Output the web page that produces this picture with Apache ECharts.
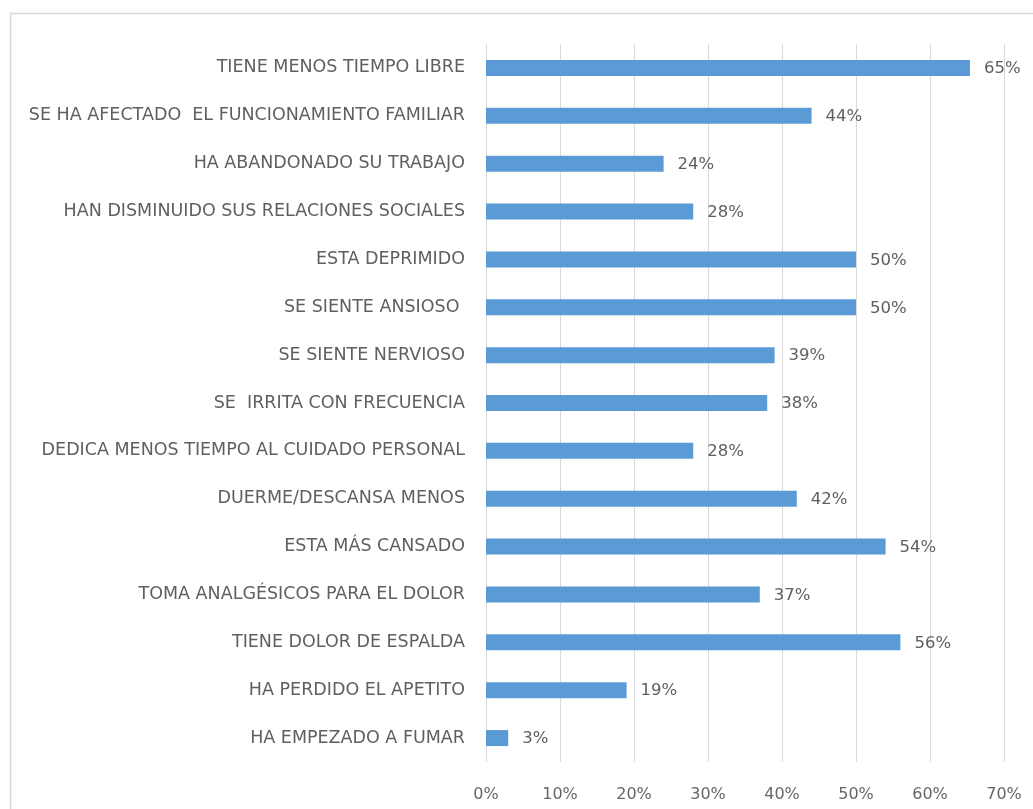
<!DOCTYPE html>
<html>
<head>
<meta charset="utf-8">
<style>
  html, body { margin: 0; padding: 0; background: #fff; }
  #main { width: 1033px; height: 809px; }
</style>
<script src="https://cdn.jsdelivr.net/npm/echarts@6/dist/echarts.min.js"></script>
</head>
<body>
<div id="main"></div>
<script>
// categorias, de arriba hacia abajo
const categories = [
  'TIENE MENOS TIEMPO LIBRE',
  'SE HA AFECTADO  EL FUNCIONAMIENTO FAMILIAR',
  'HA ABANDONADO SU TRABAJO',
  'HAN DISMINUIDO SUS RELACIONES SOCIALES',
  'ESTA DEPRIMIDO',
  'SE SIENTE ANSIOSO ',
  'SE SIENTE NERVIOSO',
  'SE  IRRITA CON FRECUENCIA',
  'DEDICA MENOS TIEMPO AL CUIDADO PERSONAL',
  'DUERME/DESCANSA MENOS',
  'ESTA MÁS CANSADO',
  'TOMA ANALGÉSICOS PARA EL DOLOR',
  'TIENE DOLOR DE ESPALDA',
  'HA PERDIDO EL APETITO',
  'HA EMPEZADO A FUMAR'
]
// porcentajes
const values = [65.4, 44, 24, 28, 50, 50, 39, 38, 28, 42, 54, 37, 56, 19, 3]
// marcas del eje x
const xTicks = [0, 10, 20, 30, 40, 50, 60, 70]

const chart = echarts.init(document.getElementById('main'))

const option = {
  animation: false,
  textStyle: { fontFamily: 'DejaVu Sans' },
  graphic: [
    {
      // marco del grafico
      type: 'rect',
      shape: { x: 10.5, y: 13.5, width: 1100, height: 900 },
      style: { fill: 'none', stroke: '#d9d9d9', lineWidth: 1.5 },
      silent: true
    }
  ],
  grid: {
    left: 486,
    right: 29,
    top: 44,
    bottom: 47,
    containLabel: false
  },
  xAxis: {
    type: 'value',
    min: xTicks[0],
    max: xTicks[xTicks.length - 1],
    interval: 10,
    axisLine: { show: false },
    axisTick: { show: false },
    splitLine: { lineStyle: { color: '#d9d9d9', width: 1 } },
    axisLabel: {
      color: '#666666',
      fontSize: 16,
      margin: 25,
      formatter: v => v + '%'
    }
  },
  yAxis: {
    type: 'category',
    inverse: true,
    data: categories,
    axisLine: { show: true, lineStyle: { color: '#d9d9d9', width: 1 } },
    axisTick: { show: false },
    axisLabel: {
      color: '#5f5f5f',
      fontSize: 17.5,
      margin: 21
    }
  },
  series: [
    {
      type: 'bar',
      data: values,
      barWidth: 16,
      itemStyle: { color: '#5b9bd5' },
      label: {
        show: true,
        position: 'right',
        distance: 14,
        color: '#5f5f5f',
        fontSize: 16.5,
        offset: [0, 1],
        formatter: p => Math.round(p.value) + '%'
      }
    }
  ]
}

chart.setOption(option)
</script>
</body>
</html>
